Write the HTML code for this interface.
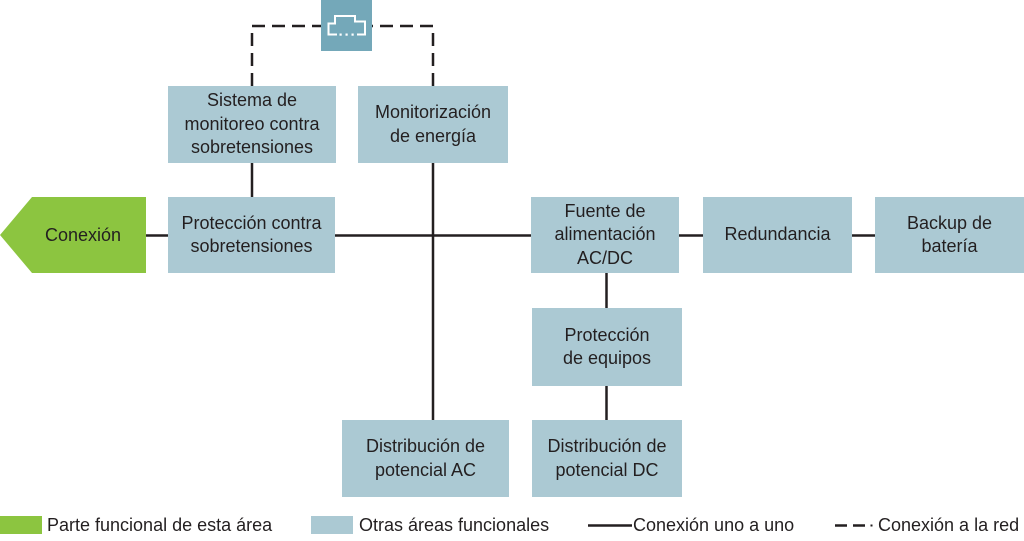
<!DOCTYPE html>
<html><head><meta charset="utf-8">
<style>
html,body{margin:0;padding:0;background:#fff;}
#c{position:relative;width:1024px;height:541px;overflow:hidden;font-family:"Liberation Sans",sans-serif;color:#231f20;}
.b{position:absolute;background:#abc9d3;display:flex;align-items:center;justify-content:center;text-align:center;font-size:18px;line-height:23.5px;}
.t{position:absolute;font-size:18px;line-height:20px;white-space:nowrap;}
svg{position:absolute;left:0;top:0;}
</style></head><body><div id="c">
<svg width="1024" height="541" viewBox="0 0 1024 541">
  <g stroke="#231f20" stroke-width="2.5" fill="none">
    <line x1="146" y1="235.5" x2="168" y2="235.5"/>
    <line x1="335" y1="235.5" x2="532" y2="235.5"/>
    <line x1="679" y1="235.5" x2="703" y2="235.5"/>
    <line x1="852" y1="235.5" x2="875" y2="235.5"/>
    <line x1="252" y1="163" x2="252" y2="197"/>
    <line x1="433" y1="163" x2="433" y2="420"/>
    <line x1="606.5" y1="273" x2="606.5" y2="308"/>
    <line x1="606.5" y1="386" x2="606.5" y2="420"/>
    <line x1="588" y1="525.5" x2="632" y2="525.5"/>
  </g>
  <g stroke="#231f20" stroke-width="2.5" fill="none" stroke-dasharray="13,7">
    <path d="M252,86 V26 H321"/>
    <path d="M433,86 V26 H372"/>
  </g>
  <g stroke="#231f20" stroke-width="2.5">
    <line x1="835" y1="525.5" x2="847" y2="525.5"/>
    <line x1="853" y1="525.5" x2="865" y2="525.5"/>
  </g>
  <rect x="870.5" y="524.5" width="2" height="2" fill="#231f20"/>
  <rect x="321" y="0" width="51" height="51" fill="#74a8b9"/>
  <polyline points="337,34.5 328.5,34.5 328.5,23.5 335,23.5 335,16 355,16 355,21.5 365,21.5 365,34.5 357,34.5" fill="none" stroke="#fff" stroke-width="2"/>
  <rect x="339.5" y="33.5" width="2.2" height="2.2" fill="#fff"/>
  <rect x="345.5" y="33.5" width="2.2" height="2.2" fill="#fff"/>
  <rect x="351.5" y="33.5" width="2.2" height="2.2" fill="#fff"/>
  <polygon points="32,197 146,197 146,273 32,273 0,235" fill="#8cc540"/>
  <rect x="0" y="516" width="42" height="18" fill="#8cc540"/>
  <rect x="311" y="516" width="42" height="18" fill="#abc9d3"/>
</svg>
<div class="t" style="left:45px;top:225px;">Conexión</div>
<div class="b" style="left:168px;top:86px;width:168px;height:77px;">Sistema de<br>monitoreo contra<br>sobretensiones</div>
<div class="b" style="left:358px;top:86px;width:150px;height:77px;">Monitorización<br>de energía</div>
<div class="b" style="left:168px;top:197px;width:167px;height:76px;">Protección contra<br>sobretensiones</div>
<div class="b" style="left:531px;top:197px;width:148px;height:76px;">Fuente de<br>alimentación<br>AC/DC</div>
<div class="b" style="left:703px;top:197px;width:149px;height:76px;">Redundancia</div>
<div class="b" style="left:875px;top:197px;width:149px;height:76px;">Backup de<br>batería</div>
<div class="b" style="left:532px;top:308px;width:150px;height:78px;">Protección<br>de equipos</div>
<div class="b" style="left:342px;top:420px;width:167px;height:77px;">Distribución de<br>potencial AC</div>
<div class="b" style="left:532px;top:420px;width:150px;height:77px;">Distribución de<br>potencial DC</div>
<div class="t" style="left:47px;top:515px;">Parte funcional de esta área</div>
<div class="t" style="left:359px;top:515px;">Otras áreas funcionales</div>
<div class="t" style="left:633px;top:515px;">Conexión uno a uno</div>
<div class="t" style="left:878px;top:515px;">Conexión a la red</div>
</div></body></html>
